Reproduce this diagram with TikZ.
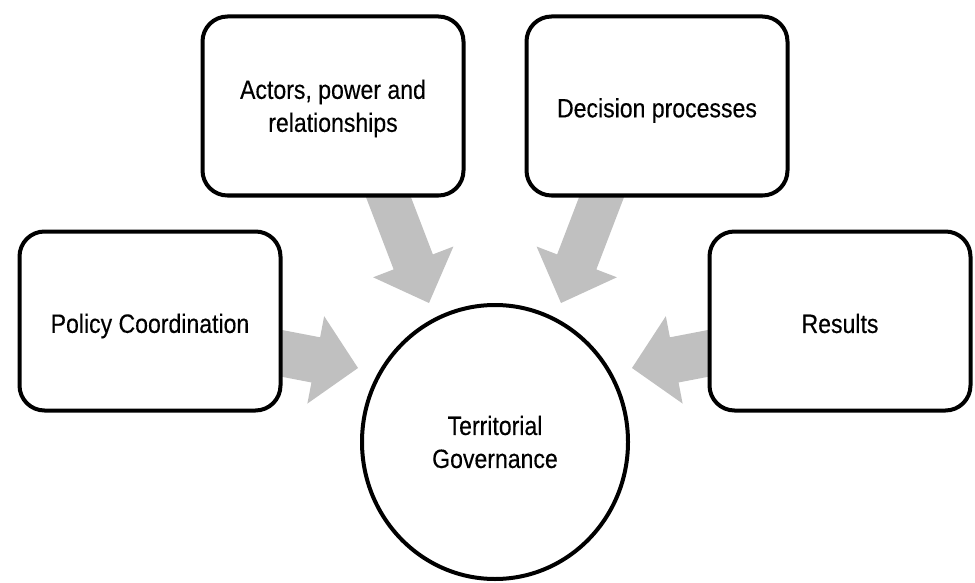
\documentclass[tikz,border=0pt]{standalone}
\usepackage{fontspec}
\setmainfont[FakeStretch=0.87,FakeBold=0.3]{Liberation Sans}
\usetikzlibrary{shapes.geometric,calc}
\definecolor{arrowgray}{RGB}{192,192,192}
\tikzset{
  labelfont/.style={font=\fontsize{26.5}{33}\selectfont},
  txt/.style={labelfont, align=center, inner sep=0pt},
  box/.style={draw=black, line width=4pt, fill=white, rounded corners=25pt,
    minimum width=261pt, minimum height=179pt, inner sep=0pt},
  hub/.style={draw=black, line width=4pt, fill=white, ellipse,
    minimum width=266pt, minimum height=274pt, align=center, inner sep=0pt, labelfont},
}
% block arrow: #1 start, #2 tip, #3 half shaft width, #4 half head width, #5 head length
\newcommand\blockarr[5]{%
  \coordinate (hb) at ($(#2)!#5!(#1)$);
  \fill[arrowgray] ($(#1)!#3!90:(#2)$) -- ($(hb)!#3!90:(#2)$) -- ($(hb)!#4!90:(#2)$)
    -- (#2) -- ($(hb)!#4!-90:(#2)$) -- ($(hb)!#3!-90:(#2)$) -- ($(#1)!#3!-90:(#2)$) -- cycle;
}
\begin{document}
\begin{tikzpicture}[x=1pt,y=-1pt]
\useasboundingbox (0,0) rectangle (975,583);
% arrow ends
\coordinate (aS) at (383.8,185);  \coordinate (aT) at (429,303);
\coordinate (dS) at (606.2,185);  \coordinate (dT) at (561,303);
\coordinate (pS) at (270,351.1);  \coordinate (pT) at (358,368);
\coordinate (rS) at (720,351.1);  \coordinate (rT) at (632,368);
\blockarr{aS}{aT}{21pt}{43pt}{44pt}
\blockarr{dS}{dT}{21pt}{43pt}{44pt}
\blockarr{pS}{pT}{23pt}{44.5pt}{43pt}
\blockarr{rS}{rT}{23pt}{44.5pt}{43pt}
% nodes
\node[box, label={[txt, yshift=-2.5pt]center:{Actors, power and\\relationships}}] (actors) at (333,106) {};
\node[box, label={[txt, yshift=-4.5pt]center:{Decision processes}}] (decision) at (657,106) {};
\node[box, label={[txt, yshift=-5pt]center:{Policy Coordination}}] (policy) at (150,321) {};
\node[box, label={[txt, yshift=-2.5pt]center:{Results}}] (results) at (840,321) {};
\node[hub] (hub) at (495,442) {Territorial\\Governance};
\end{tikzpicture}
\end{document}
